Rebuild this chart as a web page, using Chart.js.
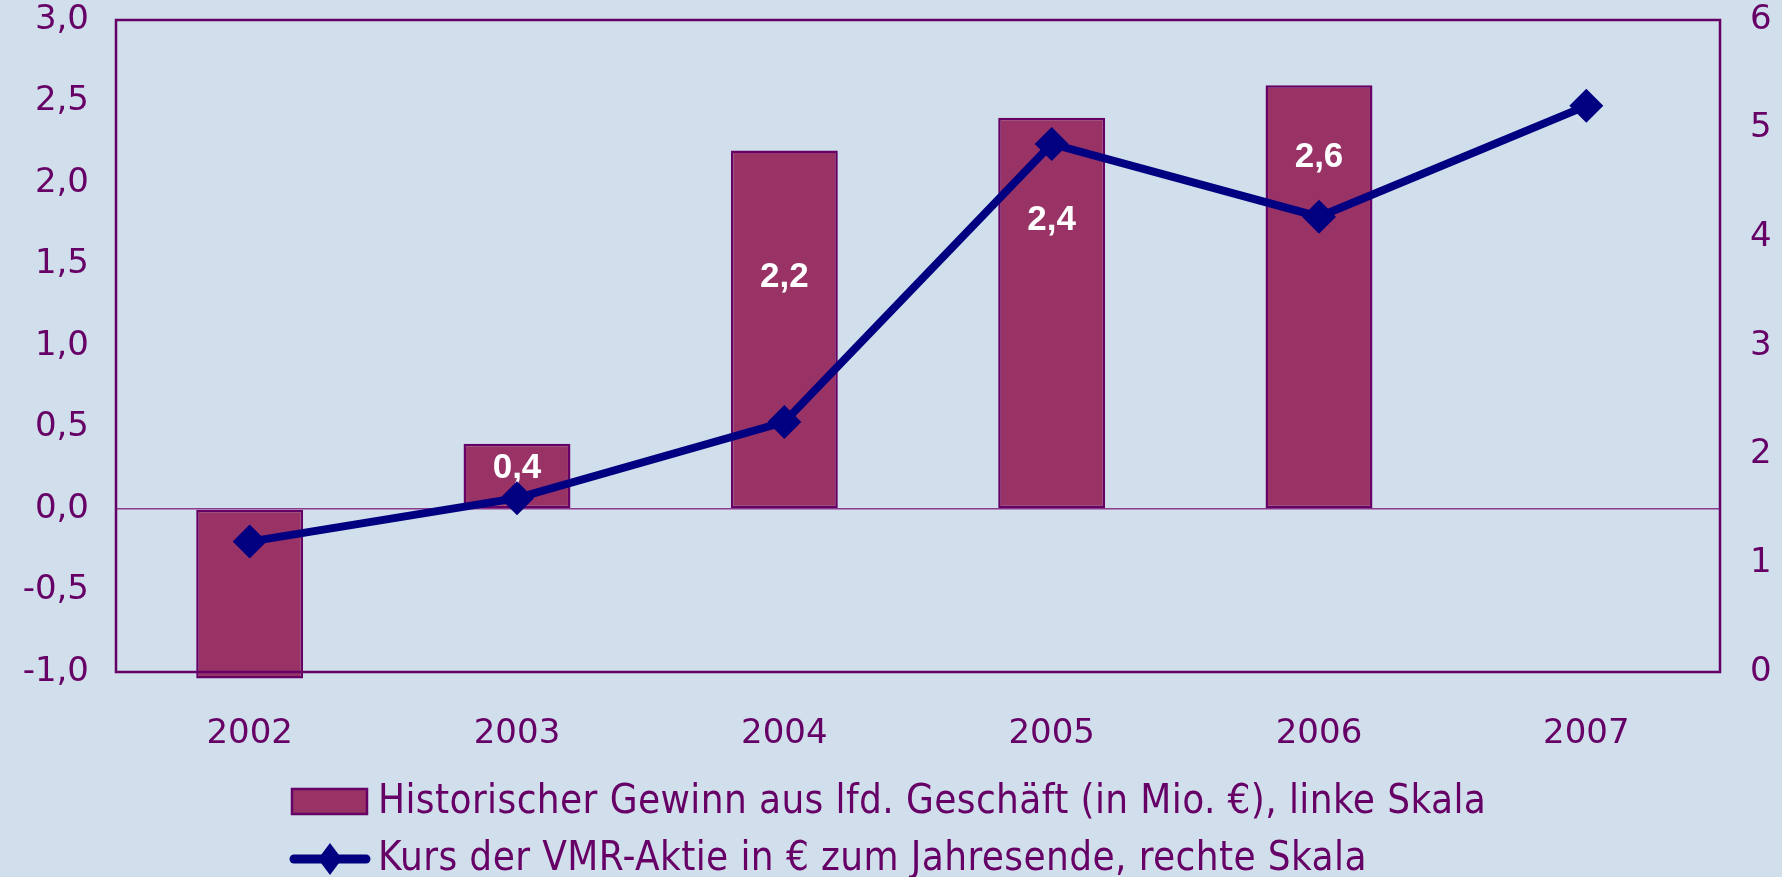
<!DOCTYPE html>
<html>
<head>
<meta charset="utf-8">
<script src="https://cdn.jsdelivr.net/npm/chart.js@4/dist/chart.umd.min.js"></script>
<style>
    html, body { margin: 0; padding: 0; background: #d0dfeb; }
    #wrap { width: 1782px; height: 877px; }
</style>
</head>
<body>
<div id="wrap"><canvas id="chart" width="1782" height="877"></canvas></div>
<script>
const years = ["2002", "2003", "2004", "2005", "2006", "2007"];
const gewinn = [-1.04, 0.4, 2.2, 2.4, 2.6, null];
const gewinnLabels = [null, "0,4", "2,2", "2,4", "2,6", null];
const gewinnLabelPos = [null, 0.25, 1.42, 1.77, 2.16, null]; // in Mio. €, linke Skala
const kurs = [1.2, 1.6, 2.3, 4.86, 4.19, 5.21];

const purple = "#660066";
const barColor = "#993366";
const navy = "#000080";

// white value labels inside the bars
const barLabels = {
    id: "barLabels",
    afterDatasetDraw(chart, args) {
        if (args.index !== 0) return;
        const ctx = chart.ctx;
        const meta = chart.getDatasetMeta(0);
        const y = chart.scales.y;
        ctx.save();
        ctx.fillStyle = "#ffffff";
        ctx.font = "bold 35px 'Liberation Sans', Arial, sans-serif";
        ctx.textAlign = "center";
        ctx.textBaseline = "middle";
        gewinnLabels.forEach((txt, i) => {
            if (!txt) return;
            ctx.fillText(txt, meta.data[i].x, y.getPixelForValue(gewinnLabelPos[i]));
        });
        ctx.restore();
    }
};

// frame round the plot area
const frame = {
    id: "frame",
    afterDraw(chart) {
        const { ctx, chartArea: a } = chart;
        ctx.save();
        ctx.strokeStyle = purple;
        ctx.lineWidth = 2.5;
        ctx.strokeRect(a.left, a.top, a.right - a.left, a.bottom - a.top);
        ctx.restore();
    }
};

// legend below the x axis
const legendBelow = {
    id: "legendBelow",
    afterDraw(chart) {
        const ctx = chart.ctx;
        const ds = chart.data.datasets;
        ctx.save();
        ctx.font = "40px 'DejaVu Sans Condensed', 'DejaVu Sans', sans-serif";
        ctx.letterSpacing = "0.4px";
        ctx.textBaseline = "middle";
        ctx.textAlign = "left";

        // bar item
        ctx.fillStyle = barColor;
        ctx.fillRect(292, 789, 75, 25);
        ctx.strokeStyle = purple;
        ctx.lineWidth = 2.5;
        ctx.strokeRect(292, 789, 75, 25);
        ctx.fillStyle = purple;
        ctx.fillText(ds[0].label, 378, 803);

        // line item
        ctx.strokeStyle = navy;
        ctx.lineWidth = 9;
        ctx.lineCap = "round";
        ctx.beginPath();
        ctx.moveTo(294, 859);
        ctx.lineTo(366, 859);
        ctx.stroke();
        ctx.fillStyle = navy;
        ctx.beginPath();
        ctx.moveTo(330, 843);
        ctx.lineTo(342, 859);
        ctx.lineTo(330, 875);
        ctx.lineTo(318, 859);
        ctx.closePath();
        ctx.fill();
        ctx.fillStyle = purple;
        ctx.fillText(ds[1].label, 378, 860);
        ctx.restore();
    }
};

const tickFont = { family: "'DejaVu Sans', sans-serif", size: 34 };

new Chart(document.getElementById("chart").getContext("2d"), {
    data: {
        labels: years,
        datasets: [
            {
                type: "bar",
                label: "Historischer Gewinn aus lfd. Geschäft (in Mio. €), linke Skala",
                data: gewinn,
                backgroundColor: barColor,
                borderColor: purple,
                borderWidth: 2.5,
                borderSkipped: false,
                categoryPercentage: 1,
                barPercentage: 0.4,
                yAxisID: "y",
                clip: false,
                order: 1
            },
            {
                type: "line",
                label: "Kurs der VMR-Aktie in € zum Jahresende, rechte Skala",
                data: kurs,
                borderColor: navy,
                backgroundColor: navy,
                borderWidth: 8,
                pointStyle: "rectRot",
                pointRadius: 17,
                pointBorderWidth: 0,
                pointBackgroundColor: navy,
                yAxisID: "y2",
                order: 0
            }
        ]
    },
    options: {
        responsive: false,
        animation: false,
        layout: { padding: { top: 20, bottom: 0, left: 0, right: 0 } },
        plugins: {
            legend: { display: false },
            tooltip: { enabled: false }
        },
        scales: {
            x: {
                offset: true,
                grid: { display: false },
                border: { display: false },
                ticks: { color: purple, font: tickFont, padding: 34, maxRotation: 0 },
                afterFit: (scale) => {
                    scale.height = 205;
                    scale.paddingLeft = 0;
                    scale.paddingRight = 0;
                }
            },
            y: {
                position: "left",
                min: -1,
                max: 3,
                ticks: {
                    stepSize: 0.5,
                    color: purple,
                    font: tickFont,
                    padding: 27,
                    callback: (v) => v.toFixed(1).replace(".", ",")
                },
                grid: {
                    drawTicks: false,
                    color: (c) => c.tick && c.tick.value === 0 ? "#8e3a8e" : "rgba(0,0,0,0)",
                    lineWidth: 1.5
                },
                border: { display: false },
                afterFit: (scale) => {
                    scale.width = 116;
                    scale.paddingTop = 0;
                    scale.paddingBottom = 0;
                }
            },
            y2: {
                position: "right",
                min: 0,
                max: 6,
                ticks: { stepSize: 1, color: purple, font: tickFont, padding: 30 },
                grid: { display: false, drawTicks: false },
                border: { display: false },
                afterFit: (scale) => {
                    scale.width = 62;
                    scale.paddingTop = 0;
                    scale.paddingBottom = 0;
                }
            }
        }
    },
    plugins: [barLabels, frame, legendBelow]
});
</script>
</body>
</html>
